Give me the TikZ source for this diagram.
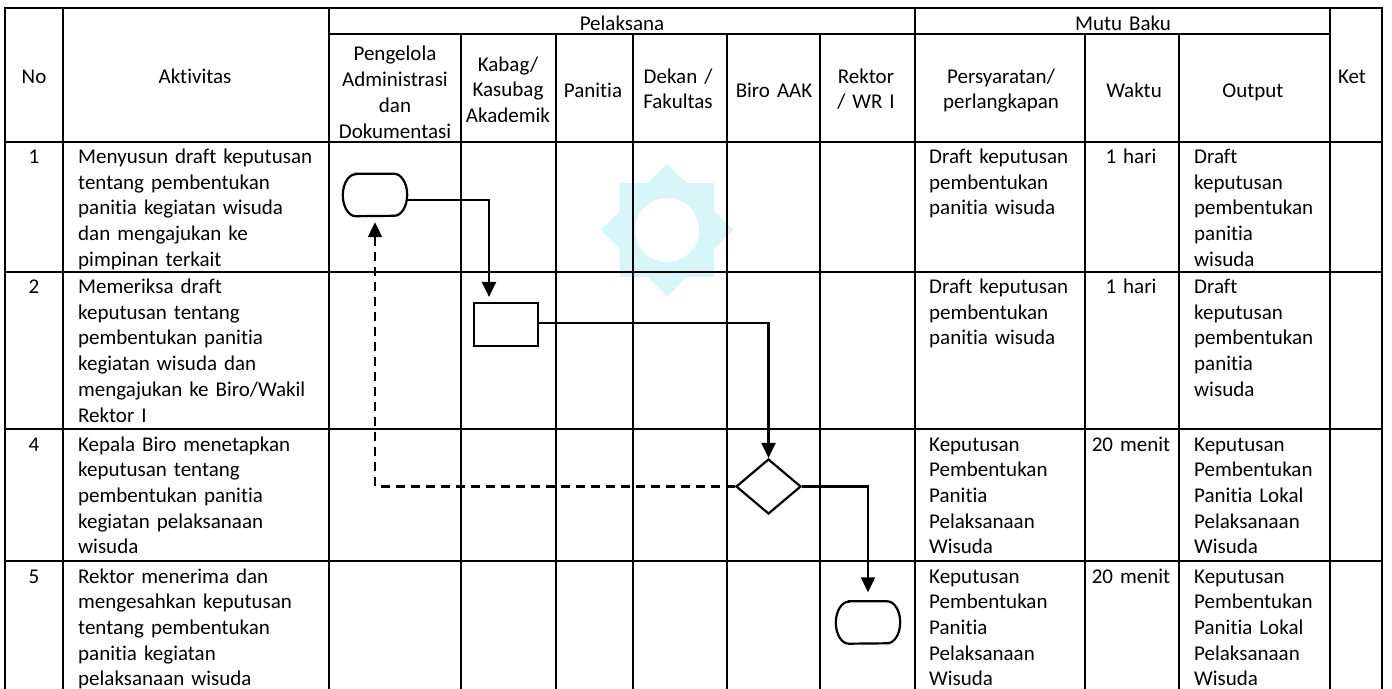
\documentclass[tikz,border=0pt]{standalone}
\usepackage{fontspec}
\setmainfont{Carlito}[Ligatures={NoCommon}]
\usetikzlibrary{arrows.meta,shapes.geometric}
\definecolor{starcyan}{RGB}{214,246,250}
\begin{document}
\begin{tikzpicture}[x=1pt,y=-1pt,
  grid/.style={line width=2.2pt,line cap=rect},
  txt/.style={font=\fontsize{21}{25.7}\selectfont, inner sep=0pt},
  lt/.style={txt, anchor=base west, text width=250pt, align=left},
  ct/.style={txt, anchor=base, text width=140pt, align=center},
  term/.style={minimum width=64pt, minimum height=42pt, inner sep=0pt},
  termline/.style={draw, line width=2.2pt, fill=white},
  proc/.style={draw, line width=2.2pt, minimum width=64pt, minimum height=43pt, inner sep=0pt, fill=white},
  dec/.style={draw, diamond, line width=2.2pt, minimum width=65pt, minimum height=55pt, inner sep=0pt, fill=white},
  flow/.style={line width=2.2pt, -{Triangle[width=14pt,length=15pt]}},
  back/.style={line width=2.2pt, dash pattern=on 9pt off 6pt, -{Triangle[width=14pt,length=15pt]}},
]
\useasboundingbox (0,0) rectangle (1392,688);
\fill[white] (0,0) rectangle (1392,688);
% watermark star
\fill[starcyan] (667,164) -- (733,230) -- (667,296) -- (601,230) -- cycle;
\fill[starcyan] (620,183) rectangle (714,277);
\fill[white] (667,230) circle (32);
% table grid
\draw[grid] (5,8) -- (1382,8);
\draw[grid] (329,34) -- (1330,34);
\foreach \y in {142,272,429,561} \draw[grid] (5,\y) -- (1382,\y);
\foreach \x in {5,63,329,915,1330,1382} \draw[grid] (\x,8) -- (\x,700);
\foreach \x in {461,556,633,727,820,1085,1179} \draw[grid] (\x,34) -- (\x,700);
% header texts
\node[ct] (hno) at (34,83) {No};
\node[ct] (hakt) at (195,83) {Aktivitas};
\node[ct] (hpel) at (622,30) {Pelaksana};
\node[ct] (hmutu) at (1123,30) {Mutu Baku};
\node[ct] (hket) at (1352,83) {Ket};
\node[ct,font=\fontsize{21}{26.3}\selectfont] (hpad) at (395,60) {Pengelola\\Administrasi\\dan\\Dokumentasi};
\node[ct] (hkab) at (508,71) {Kabag/\\Kasubag\\Akademik};
\node[ct] (hpan) at (593,97) {Panitia};
\node[ct] (hdek) at (678,83) {Dekan /\\Fakultas};
\node[ct] (hbiro) at (774,97) {Biro AAK};
\node[ct] (hrek) at (866,83) {Rektor\\/ WR I};
\node[ct] (hper) at (1001,83) {Persyaratan/\\perlangkapan};
\node[ct] (hwak) at (1134,97) {Waktu};
\node[ct] (hout) at (1253,97) {Output};
% row 1
\node[ct] (n1) at (34,163.5) {1};
\node[lt] (a1) at (78,163.5) {Menyusun draft keputusan\\tentang pembentukan\\panitia kegiatan wisuda\\dan mengajukan ke\\pimpinan terkait};
\node[lt] (p1) at (929,163.5) {Draft keputusan\\pembentukan\\panitia wisuda};
\node[ct] (w1) at (1131,163.5) {1 hari};
\node[lt] (o1) at (1194,163.5) {Draft\\keputusan\\pembentukan\\panitia\\wisuda};
% row 2
\node[ct] (n2) at (34,293.5) {2};
\node[lt] (a2) at (78,293.5) {Memeriksa draft\\keputusan tentang\\pembentukan panitia\\kegiatan wisuda dan\\mengajukan ke Biro/Wakil\\Rektor I};
\node[lt] (p2) at (929,293.5) {Draft keputusan\\pembentukan\\panitia wisuda};
\node[ct] (w2) at (1131,293.5) {1 hari};
\node[lt] (o2) at (1194,293.5) {Draft\\keputusan\\pembentukan\\panitia\\wisuda};
% row 4
\node[ct] (n4) at (34,451) {4};
\node[lt] (a4) at (78,451) {Kepala Biro menetapkan\\keputusan tentang\\pembentukan panitia\\kegiatan pelaksanaan\\wisuda};
\node[lt] (p4) at (929,451) {Keputusan\\Pembentukan\\Panitia\\Pelaksanaan\\Wisuda};
\node[ct] (w4) at (1131,451) {20 menit};
\node[lt] (o4) at (1194,451) {Keputusan\\Pembentukan\\Panitia Lokal\\Pelaksanaan\\Wisuda};
% row 5
\node[ct] (n5) at (34,583) {5};
\node[lt] (a5) at (78,583) {Rektor menerima dan\\mengesahkan keputusan\\tentang pembentukan\\panitia kegiatan\\pelaksanaan wisuda};
\node[lt] (p5) at (929,583) {Keputusan\\Pembentukan\\Panitia\\Pelaksanaan\\Wisuda};
\node[ct] (w5) at (1131,583) {20 menit};
\node[lt] (o5) at (1194,583) {Keputusan\\Pembentukan\\Panitia Lokal\\Pelaksanaan\\Wisuda};
% flow shapes
\node[term] (T1) at (375,195) {};
\node[proc] (B) at (506,324.5) {};
\node[dec] (D) at (768.5,486.5) {};
\node[term] (T2) at (868,622.5) {};
\foreach \t in {T1,T2}
  \draw[termline] ([xshift=13pt]\t.north west) -- ([xshift=-13pt]\t.north east)
    arc[start angle=90, end angle=-90, x radius=13pt, y radius=21pt]
    -- ([xshift=13pt]\t.south west)
    arc[start angle=270, end angle=90, x radius=13pt, y radius=21pt] -- cycle;
% connectors
\draw[flow, shorten >=5pt] ([yshift=-5pt]T1.east) -| ([xshift=-17pt]B.north);
\draw[flow] ([yshift=1.5pt]B.east) -| (D.north);
\draw[flow, shorten >=9pt] (D.east) -| (T2.north);
\draw[back, shorten >=6pt] (D.west) -| (T1.south);
\end{tikzpicture}
\end{document}
